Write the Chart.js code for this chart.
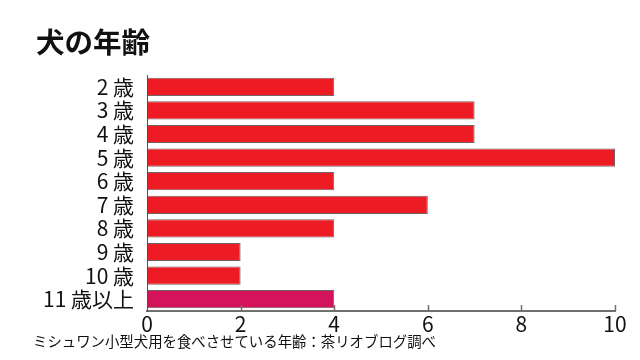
<!DOCTYPE html>
<html lang="ja">
<head>
<meta charset="utf-8">
<script src="https://cdn.jsdelivr.net/npm/chart.js@4"></script>
<style>
    html, body { margin: 0; padding: 0; background: #fff; }
    #wrap { position: relative; width: 640px; height: 360px; overflow: hidden; }
    #chart { position: absolute; left: 0; top: 0; }
    .txt { position: absolute; font-family: "Noto Sans CJK JP", sans-serif; color: #111; white-space: nowrap; }
    #title { left: 36px; top: 23px; font-size: 28.5px; font-weight: bold; line-height: 36px; }
    #note { left: 33px; top: 331px; font-size: 14.4px; line-height: 20px; }
</style>
</head>
<body>
<div id="wrap">
    <canvas id="chart" width="640" height="360"></canvas>
    <div class="txt" id="title">犬の年齢</div>
    <div class="txt" id="note">ミシュワン小型犬用を食べさせている年齢：茶リオブログ調べ</div>
</div>
<script>
// Kategorien und Werte aus der Vorlage
const ages = ["2 歳", "3 歳", "4 歳", "5 歳", "6 歳", "7 歳", "8 歳", "9 歳", "10 歳", "11 歳以上"];
const counts = [4, 7, 7, 10, 4, 6, 4, 2, 2, 4];
const barColors = ["#ed1c24", "#ed1c24", "#ed1c24", "#ed1c24", "#ed1c24", "#ed1c24", "#ed1c24", "#ed1c24", "#ed1c24", "#d4145a"];
const xTicks = [0, 2, 4, 6, 8, 10];

// Kleine Striche nach oben an der x-Achse (wie im Original)
const upTicks = {
    id: "upTicks",
    afterDraw(chart) {
        const x = chart.scales.x;
        const ctx = chart.ctx;
        const y0 = chart.chartArea.bottom;
        ctx.save();
        ctx.strokeStyle = "#6e6e6e";
        ctx.lineWidth = 1.5;
        xTicks.slice(1).forEach(v => {
            const px = Math.round(x.getPixelForValue(v)) + 0.5;
            ctx.beginPath();
            ctx.moveTo(px, y0);
            ctx.lineTo(px, y0 - 6);
            ctx.stroke();
        });
        ctx.restore();
    }
};

new Chart(document.getElementById("chart").getContext("2d"), {
    type: "bar",
    data: {
        labels: ages,
        datasets: [{
            data: counts,
            backgroundColor: barColors,
            borderColor: "rgba(95, 70, 70, 0.85)",
            borderWidth: 1,
            borderSkipped: false,
            barPercentage: 0.77,
            categoryPercentage: 1
        }]
    },
    options: {
        indexAxis: "y",
        responsive: false,
        animation: false,
        layout: { padding: { top: 75, right: 25, bottom: 0, left: 0 } },
        plugins: {
            legend: { display: false },
            tooltip: { enabled: false }
        },
        scales: {
            x: {
                min: 0,
                max: 10,
                afterFit: s => { s.height = 49; },
                afterBuildTicks: s => { s.ticks = xTicks.map(v => ({ value: v })); },
                grid: { display: false },
                border: { display: true, color: "#707070", width: 2 },
                ticks: {
                    color: "#111",
                    padding: -5,
                    font: { size: 21, family: "'Noto Sans CJK JP', sans-serif", lineHeight: 1 }
                }
            },
            y: {
                afterFit: s => { s.width = 147; },
                grid: { display: false },
                border: { display: true, color: "#555", width: 1 },
                ticks: {
                    color: "#111",
                    padding: 5,
                    autoSkip: false,
                    font: { size: 21, family: "'Noto Sans CJK JP', sans-serif", lineHeight: 1 }
                }
            }
        }
    },
    plugins: [upTicks]
});
</script>
</body>
</html>
